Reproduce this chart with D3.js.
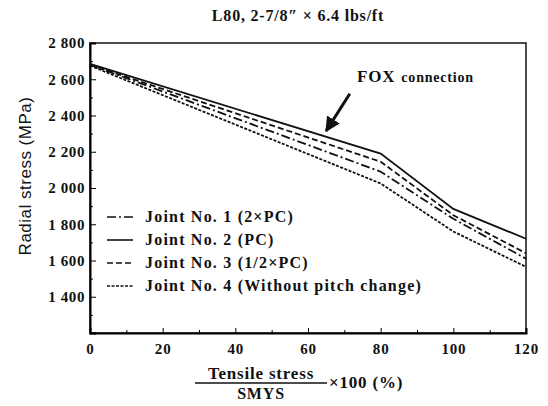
<!DOCTYPE html>
<html>
<head>
<meta charset="utf-8">
<script src="https://cdn.jsdelivr.net/npm/d3@7"></script>
<style>
  body { margin: 0; background: #fff; }
  text { font-family: "Liberation Serif", "DejaVu Serif", serif; fill: #111; }
</style>
</head>
<body>
<div id="chart"></div>
<script>
// tensile stress / SMYS x 100 (%)
const tensile = [0, 80, 100, 120];
// radial stress (MPa) per joint
const joint1 = [2680, 2090, 1830, 1610];
const joint2 = [2685, 2190, 1885, 1720];
const joint3 = [2680, 2145, 1850, 1640];
const joint4 = [2675, 2025, 1760, 1565];
const jointNames = ['Joint No. 1 (2\u00d7PC)', 'Joint No. 2 (PC)', 'Joint No. 3 (1/2\u00d7PC)', 'Joint No. 4 (Without pitch change)'];
const xTicks = [0, 20, 40, 60, 80, 100, 120];
const yTicks = [1400, 1600, 1800, 2000, 2200, 2400, 2600, 2800];

const W = 548, H = 406;
const margin = { top: 43, right: 22, bottom: 73, left: 90 };
const width = W - margin.left - margin.right;
const height = H - margin.top - margin.bottom;

const svg = d3.select('#chart').append('svg')
  .attr('width', W).attr('height', H);

const chart = svg.append('g')
  .attr('transform', `translate(${margin.left}, ${margin.top})`);

const x = d3.scaleLinear().domain([0, 120]).range([0, width]);
const y = d3.scaleLinear().domain([1200, 2800]).range([height, 0]);

const dashes = ['9,3,2,3', null, '6,3', '3,1.5'];
const series = [joint1, joint2, joint3, joint4];

// frame
chart.append('rect')
  .attr('width', width).attr('height', height)
  .attr('fill', 'none').attr('stroke', '#111').attr('stroke-width', 1.5);

// minor ticks
const yAxisMinor = d3.axisLeft(y).tickValues(d3.range(1300, 2800, 200)).tickSize(-3).tickFormat('');
const xAxisMinor = d3.axisBottom(x).tickValues(d3.range(10, 120, 20)).tickSize(-3).tickFormat('');
chart.append('g').call(yAxisMinor).call(g => g.select('.domain').remove());
chart.append('g').attr('transform', `translate(0, ${height})`).call(xAxisMinor).call(g => g.select('.domain').remove());

const fmt = d => d3.format(',')(d).replace(',', ' ');

const yAxis = chart.append('g')
  .call(d3.axisLeft(y).tickValues(yTicks).tickSize(-6).tickPadding(5).tickFormat(fmt));
yAxis.select('.domain').attr('stroke-width', 2);
yAxis.selectAll('text').attr('font-size', 15).attr('font-weight', 'bold')
  .attr('letter-spacing', 0.6)
  .style('font-family', '"Liberation Serif", serif');

const xAxis = chart.append('g')
  .attr('transform', `translate(0, ${height})`)
  .call(d3.axisBottom(x).tickValues(xTicks).tickSize(-5).tickPadding(10));
xAxis.select('.domain').attr('stroke-width', 2);
xAxis.selectAll('text').attr('font-size', 15).attr('font-weight', 'bold')
  .attr('letter-spacing', 0.8)
  .style('font-family', '"Liberation Serif", serif');

// lines
const line = d3.line().x((d, i) => x(tensile[i])).y(d => y(d));
chart.selectAll('.series')
  .data(series)
  .enter()
  .append('path')
  .attr('class', 'series')
  .attr('d', d => line(d))
  .attr('fill', 'none')
  .attr('stroke', '#111')
  .attr('stroke-width', 1.8)
  .attr('stroke-dasharray', (d, i) => dashes[i]);

// legend
const legend = chart.append('g').attr('transform', 'translate(17, 174)');
jointNames.forEach((name, i) => {
  const g = legend.append('g').attr('transform', `translate(0, ${i * 23})`);
  g.append('line')
    .attr('x1', 0).attr('x2', 26).attr('y1', 0).attr('y2', 0)
    .attr('stroke', '#111').attr('stroke-width', 1.6)
    .attr('stroke-dasharray', dashes[i]);
  g.append('text')
    .attr('x', 38).attr('y', 5)
    .attr('font-size', 16).attr('font-weight', 'bold')
    .attr('letter-spacing', 1.2)
    .text(name);
});

// annotation
svg.append('defs').append('marker')
  .attr('id', 'arrow')
  .attr('viewBox', '0 0 10 10')
  .attr('refX', 9).attr('refY', 5)
  .attr('markerWidth', 5).attr('markerHeight', 5)
  .attr('orient', 'auto')
  .append('path').attr('d', 'M0,0 L10,5 L0,10 Z').attr('fill', '#111');

chart.append('line')
  .attr('x1', x(71.5)).attr('y1', y(2520))
  .attr('x2', x(65)).attr('y2', y(2315))
  .attr('stroke', '#111').attr('stroke-width', 3)
  .attr('marker-end', 'url(#arrow)');

chart.append('text')
  .attr('x', x(73.5)).attr('y', y(2585))
  .attr('font-size', 17).attr('font-weight', 'bold')
  .attr('letter-spacing', 0.8)
  .text('FOX')
  .append('tspan').attr('font-size', 14).attr('dx', 6).text('connection');

// title
svg.append('text')
  .attr('x', 298).attr('y', 21)
  .attr('text-anchor', 'middle')
  .attr('font-size', 16).attr('font-weight', 'bold')
  .attr('letter-spacing', 0.8)
  .text('L80, 2-7/8\u2033 \u00d7 6.4 lbs/ft');

// y title
svg.append('text')
  .attr('transform', `translate(31, 176) rotate(-90)`)
  .attr('text-anchor', 'middle')
  .attr('font-size', 17)
  .attr('letter-spacing', 0.5)
  .style('font-family', '"Liberation Sans", Arial, sans-serif')
  .text('Radial stress (MPa)');

// x title as fraction
const xt = svg.append('g');
xt.append('text')
  .attr('x', 261).attr('y', 379)
  .attr('text-anchor', 'middle').attr('font-size', 17).attr('font-weight', 'bold')
  .attr('letter-spacing', 0.8)
  .text('Tensile stress');
xt.append('line')
  .attr('x1', 195).attr('x2', 327).attr('y1', 383).attr('y2', 383)
  .attr('stroke', '#111').attr('stroke-width', 1.5);
xt.append('text')
  .attr('x', 261).attr('y', 399)
  .attr('text-anchor', 'middle').attr('font-size', 16).attr('font-weight', 'bold')
  .attr('letter-spacing', 0.8)
  .text('SMYS');
xt.append('text')
  .attr('x', 329).attr('y', 388)
  .attr('font-size', 17).attr('font-weight', 'bold')
  .attr('letter-spacing', 0.8)
  .text('\u00d7100  (%)');
</script>
</body>
</html>
